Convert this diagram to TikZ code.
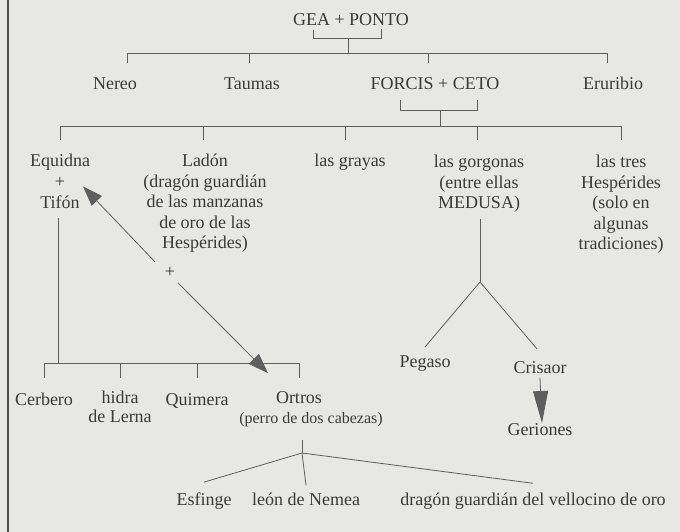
\documentclass[tikz,border=0pt]{standalone}
\usepackage{fontspec}
\setmainfont{Liberation Serif}
\usetikzlibrary{arrows.meta,positioning}

\definecolor{paper}{HTML}{E7E7E5}
\definecolor{ink}{HTML}{3A3A3A}
\definecolor{wire}{HTML}{5E5E5E}

\begin{document}
\begin{tikzpicture}[x=1pt,y=-1pt,
    every node/.style={text=ink,font=\fontsize{18}{20.5}\selectfont,align=center,inner sep=0pt},
    kin/.style={anchor=base},
    kinblock/.style={anchor=north},
    wire/.style={draw=wire,line width=0.8pt},
    big/.style={wire,-{Triangle[length=20pt,width=14pt]}},
    long/.style={wire,-{Triangle[length=32pt,width=15pt]}}]

    \fill[paper] (0,0) rectangle (680,532);
    \useasboundingbox (0,0) rectangle (680,532);
    \draw[draw=black!70,line width=1.6pt] (8,0) -- (8,532);

    % parents
    \node (geaponto) [kin] at (351,26) {GEA + PONTO};
    \node (nereo) [kin] at (115,90) {Nereo};
    \node (taumas) [kin] at (252,90) {Taumas};
    \node (forcis) [kin] at (435,90) {FORCIS + CETO};
    \node (eruribio) [kin] at (613,90) {Eruribio};

    % children of Forcis and Ceto
    \node (equidna) [kin] at (60,167) {Equidna};
    \node (eqplus) [kin] at (60,187.5) {+};
    \node (tifon) [kin] at (60,208) {Tifón};
    \node (ladon) [kinblock] at (205,154) {Ladón\\(dragón guardián\\de las manzanas\\de oro de las\\Hespérides)};
    \node (plus) [kin] at (170,277) {+};
    \node (grayas) [kin] at (350,167) {las grayas};
    \node (gorgonas) [kinblock] at (479,155) {las gorgonas\\(entre ellas\\MEDUSA)};
    \node (hesperides) [kinblock] at (621,155) {las tres\\Hespérides\\(solo en\\algunas\\tradiciones)};

    % children of Equidna and Tifon
    \node (cerbero) [kin] at (44,405) {Cerbero};
    \node (hidra) [kinblock] at (120,391) {hidra\\[-2pt]de Lerna};
    \node (quimera) [kin] at (197,405) {Quimera};
    \node (ortros) [kin] at (299,403) {Ortros};
    \node (perro) [kin,font=\fontsize{16}{18}\selectfont] at (311,423) {(perro de dos cabezas)};
    \node (esfinge) [kin] at (204,505) {Esfinge};
    \node (leon) [kin] at (306,505) {león de Nemea};
    \node (dragon) [kin] at (533,505) {dragón guardián del vellocino de oro};

    % children of Medusa
    \node (pegaso) [kin] at (425,367) {Pegaso};
    \node (crisaor) [kin] at (540,373) {Crisaor};
    \node (geriones) [kin] at (540,435) {Geriones};

    % joints
    \coordinate (gpM) at (348,38);
    \coordinate (bar1) at (348,53);
    \coordinate (fcM) at ([shift={(5,20)}]forcis.base);
    \coordinate (bar2) at ([yshift=-16pt]fcM);
    \coordinate (bar3) at (58,363);
    \coordinate (jM) at (480,282);
    \coordinate (jO) at (302,453);

    % Gea + Ponto
    \draw[wire] ([shift={(-38,4)}]geaponto.base) |- ([shift={(30,12)}]geaponto.base) -- ++(0,-9);
    \draw[wire] (gpM) -- (bar1);
    \draw[wire] ([shift={(12,10)}]nereo |- bar1) |- ([xshift=-6pt]eruribio |- bar1) -- ++(0,10);
    \foreach \n/\d in {taumas/-3,forcis/-7}
        \draw[wire] ([xshift=\d pt]\n |- bar1) -- ++(0,10);

    % Forcis + Ceto
    \draw[wire] ([shift={(-35,10)}]forcis.base) |- ([shift={(42,20)}]forcis.base) -- ++(0,-10);
    \draw[wire] (fcM) -- (bar2);
    \draw[wire] ([yshift=-14pt]equidna |- bar2) |- (hesperides |- bar2) -- ++(0,14);
    \foreach \n/\d in {ladon/-2,grayas/-5,gorgonas/-2}
        \draw[wire] ([xshift=\d pt]\n |- bar2) -- ++(0,14);

    % Equidna + Tifon
    \draw[wire] ([shift={(-2,10)}]tifon.base) -- (bar3);
    \draw[wire] ([yshift=-15pt]cerbero |- bar3) |- (ortros |- bar3) -- ++(0,15);
    \foreach \n in {hidra,quimera}
        \draw[wire] (\n |- bar3) -- ++(0,15);
    \draw[big] ([shift={(-15,-10)}]plus.center) -- ([shift={(23,4)}]eqplus.center);
    \draw[big] ([shift={(8,11)}]plus.center) -- ([shift={(-31,-24)}]ortros.center);

    % Ortros
    \draw[wire] ([yshift=-13pt]perro.south -| jO) -- (jO);
    \draw[wire] (jO) -- ([yshift=10pt]esfinge.north);
    \draw[wire] (jO) -- ([yshift=7pt]leon.north);
    \draw[wire] (jO) -- ([yshift=9pt]dragon.north);

    % Medusa
    \draw[wire] ([yshift=-6pt]gorgonas.south -| jM) -- (jM);
    \draw[wire] (jM) -- ([yshift=8pt]pegaso.north);
    \draw[wire] (jM) -- ([shift={(-3,-12)}]crisaor.north);
    \draw[long] ([yshift=-5pt]crisaor.base) -- ([shift={(2,-12)}]geriones.base);
\end{tikzpicture}
\end{document}
